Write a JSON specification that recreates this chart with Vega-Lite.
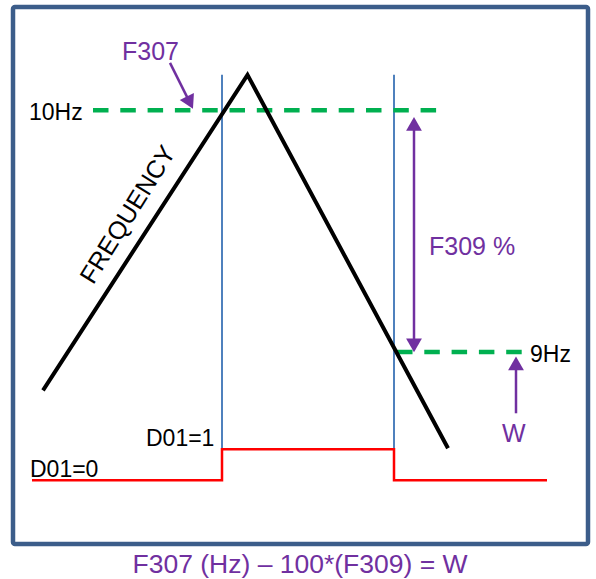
{
  "$schema": "https://vega.github.io/schema/vega-lite/v6.json",
  "width": 596,
  "height": 579,
  "autosize": {"type": "fit", "contains": "padding"},
  "padding": 0,
  "background": "white",
  "config": {"view": {"stroke": null}, "axis": {"disable": true}, "legend": {"disable": true}, "text": {"font": "Liberation Sans"}},
  "datasets": {
    "frame": [{"x": 13, "x2": 588, "y": 7, "y2": 545}],
    "freq": [{"o": 1, "x": 43, "y": 391}, {"o": 2, "x": 247.5, "y": 75}, {"o": 3, "x": 448, "y": 449}],
    "dout": [{"o": 1, "x": 32, "y": 481}, {"o": 2, "x": 222, "y": 481}, {"o": 3, "x": 222, "y": 450}, {"o": 4, "x": 394, "y": 450}, {"o": 5, "x": 394, "y": 481}, {"o": 6, "x": 547, "y": 481}],
    "levels": [{"label": "10Hz", "x": 93, "x2": 440, "y": 110.5}, {"label": "9Hz", "x": 397, "x2": 522, "y": 352.5}],
    "markers": [{"x": 222, "y": 75, "y2": 450}, {"x": 394, "y": 75, "y2": 450}],
    "shafts": [{"x": 170, "y": 63, "x2": 188, "y2": 99}, {"x": 414, "y": 130, "x2": 414, "y2": 340}, {"x": 516, "y": 370, "x2": 516, "y2": 414}],
    "heads": [{"x": 189.9, "y": 102.8, "dir": 153.4}, {"x": 414, "y": 124, "dir": 0}, {"x": 414, "y": 346, "dir": 180}, {"x": 516, "y": 364, "dir": 0}],
    "blackText": [{"t": "10Hz", "x": 29, "y": 120}, {"t": "D01=1", "x": 146, "y": 447}, {"t": "D01=0", "x": 30, "y": 478}, {"t": "9Hz", "x": 530, "y": 363}],
    "purpleText": [{"t": "F307", "x": 122, "y": 60}, {"t": "F309 %", "x": 429, "y": 255}, {"t": "W", "x": 502, "y": 443}],
    "caption": [{"t": "F307 (Hz) – 100*(F309) = W", "x": 300, "y": 574}],
    "axisLabel": [{"t": "FREQUENCY", "x": 128, "y": 215}]
  },
  "encoding": {
    "x": {"field": "x", "type": "quantitative", "scale": {"domain": [0, 596], "nice": false, "zero": false}},
    "y": {"field": "y", "type": "quantitative", "scale": {"domain": [0, 579], "nice": false, "zero": false, "reverse": true}}
  },
  "layer": [
    {
      "data": {"name": "frame"},
      "mark": {"type": "rect", "fill": "white", "fillOpacity": 0, "stroke": "#3c5d8a", "strokeWidth": 4.5, "cornerRadius": 2},
      "encoding": {"x2": {"field": "x2"}, "y2": {"field": "y2"}}
    },
    {
      "data": {"name": "markers"},
      "mark": {"type": "rule", "color": "#4f81bd", "strokeWidth": 2},
      "encoding": {"y2": {"field": "y2"}}
    },
    {
      "data": {"name": "dout"},
      "mark": {"type": "line", "color": "#ff0000", "strokeWidth": 2.5, "strokeJoin": "miter"},
      "encoding": {"order": {"field": "o", "type": "quantitative"}}
    },
    {
      "data": {"name": "levels"},
      "mark": {"type": "rule", "color": "#00b050", "strokeWidth": 4.5, "strokeDash": [15.5, 11.8]},
      "encoding": {"x2": {"field": "x2"}}
    },
    {
      "data": {"name": "freq"},
      "mark": {"type": "line", "color": "#000000", "strokeWidth": 4, "strokeJoin": "miter"},
      "encoding": {"order": {"field": "o", "type": "quantitative"}}
    },
    {
      "data": {"name": "shafts"},
      "mark": {"type": "rule", "color": "#7030a0", "strokeWidth": 2.5},
      "encoding": {"x2": {"field": "x2"}, "y2": {"field": "y2"}}
    },
    {
      "data": {"name": "heads"},
      "mark": {"type": "point", "shape": "triangle-up", "filled": true, "color": "#7030a0", "opacity": 1, "size": 250},
      "encoding": {"angle": {"field": "dir", "type": "quantitative", "scale": null}}
    },
    {
      "data": {"name": "blackText"},
      "mark": {"type": "text", "align": "left", "baseline": "alphabetic", "fontSize": 23, "color": "#000000"},
      "encoding": {"text": {"field": "t"}}
    },
    {
      "data": {"name": "purpleText"},
      "mark": {"type": "text", "align": "left", "baseline": "alphabetic", "fontSize": 25, "color": "#7030a0"},
      "encoding": {"text": {"field": "t"}}
    },
    {
      "data": {"name": "caption"},
      "mark": {"type": "text", "align": "center", "baseline": "alphabetic", "fontSize": 26.5, "color": "#7030a0"},
      "encoding": {"text": {"field": "t"}}
    },
    {
      "data": {"name": "axisLabel"},
      "mark": {"type": "text", "align": "center", "baseline": "middle", "fontSize": 25, "angle": -58, "color": "#000000"},
      "encoding": {"text": {"field": "t"}}
    }
  ]
}
